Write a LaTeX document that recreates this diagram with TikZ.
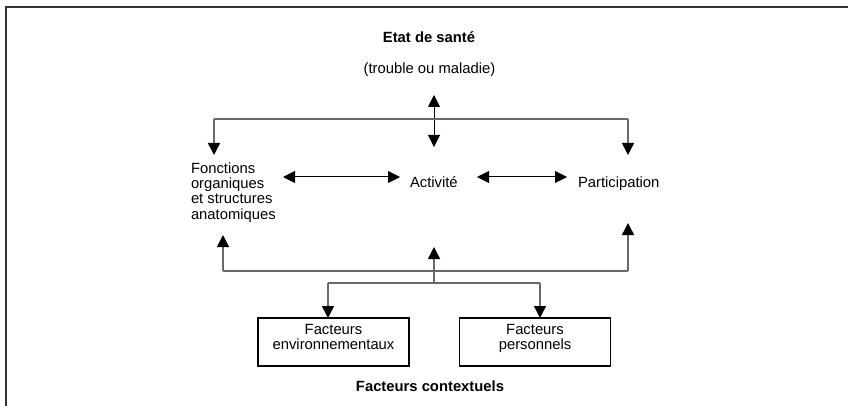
\documentclass[tikz,border=0pt]{standalone}
\usepackage{fontspec}
\setmainfont{Liberation Sans}
\usetikzlibrary{arrows.meta}
\definecolor{linegray}{RGB}{105,105,105}
\definecolor{framegray}{RGB}{50,50,50}
\begin{document}
\begin{tikzpicture}[x=1pt,y=-1pt,
  every node/.style={inner sep=0pt,outer sep=0pt,font=\fontsize{14.8}{15.4}\selectfont},
  txt/.style={},
  ttl/.style={font=\fontsize{14.8}{15.4}\selectfont\bfseries},
  boxnode/.style={draw=black,line width=1.6pt,minimum width=151pt,minimum height=48pt},
  elbow/.style={draw=linegray,line width=1.4pt},
  tip/.style={-{Triangle[length=12pt,width=12pt,color=black]}},
  elbowarrow/.style={elbow,tip},
  dblarrow/.style={draw=black,line width=1pt,{Triangle[length=12pt,width=12pt]}-{Triangle[length=12pt,width=12pt]}},
  framestyle/.style={draw=framegray,line width=2pt}
]
\useasboundingbox (0,0) rectangle (848,406);
\draw[framestyle] (6,406) -- (6,7) -- (848,7);

% texts
\node[ttl,anchor=base] (etat) at (429,43) {Etat de santé};
\node[txt,anchor=base] (trouble) at (429.5,74) {(trouble ou maladie)};
\node[txt,anchor=north west,align=left] (fonc) at (191,162.3) {Fonctions\\organiques\\et structures\\anatomiques};
\node[txt,anchor=base west] (act) at (410,187) {Activité};
\node[txt,anchor=base west] (part) at (578,187) {Participation};
\node[boxnode] (env) at (333.5,342) {};
\node[boxnode] (pers) at (535,342) {};
\node[txt,anchor=north,align=center] (envtxt) at (333.5,324.2) {Facteurs\\environnementaux};
\node[txt,anchor=north,align=center] (perstxt) at (535,324.2) {Facteurs\\personnels};
\node[ttl,anchor=base] (ctx) at (430,391) {Facteurs contextuels};

% coordinates
\coordinate (tu) at (434,95);
\coordinate (td) at (434,147);
\coordinate (tl) at (214,119);
\coordinate (tr) at (628,119);
\coordinate (fl) at (214,155);
\coordinate (pr) at (628,155);
\coordinate (ha1) at (283,177);
\coordinate (ha2) at (400,177);
\coordinate (hb1) at (477,177);
\coordinate (hb2) at (567,177);
\coordinate (bl) at (223,271);
\coordinate (br) at (628,271);
\coordinate (blt) at (223,235);
\coordinate (brt) at (628,223);
\coordinate (jm) at (434,283);
\coordinate (jmt) at (434,247);
\coordinate (jl) at (328,283);
\coordinate (jr) at (540,283);

% top connectors
\draw[dblarrow] (tu) -- (td);
\draw[elbow] (tl) -- (tr);
\draw[elbowarrow] (tl) -- (fl);
\draw[elbowarrow] (tr) -- (pr);

% middle arrows
\draw[dblarrow] (ha1) -- (ha2);
\draw[dblarrow] (hb1) -- (hb2);

% bottom connectors
\draw[elbow] (bl) -- (br);
\draw[elbowarrow] (bl) -- (blt);
\draw[elbowarrow] (br) -- (brt);
\draw[elbowarrow] (jm) -- (jmt);
\draw[elbow] (jl) -- (jr);
\draw[elbowarrow] (jl) -- (env.north -| jl);
\draw[elbowarrow] (jr) -- (pers.north -| jr);
\end{tikzpicture}
\end{document}
